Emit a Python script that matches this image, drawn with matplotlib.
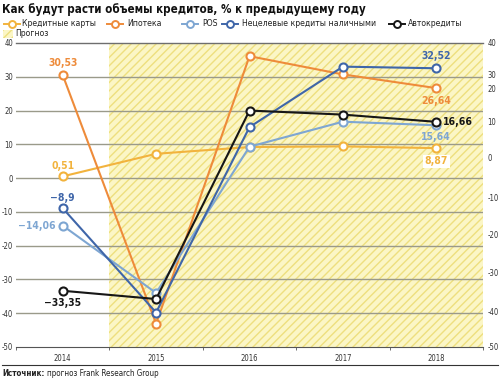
import matplotlib
matplotlib.use("Agg")
import matplotlib.pyplot as plt
from matplotlib.lines import Line2D
from matplotlib.patches import Rectangle

plt.rcParams['font.family'] = ['DejaVu Sans']
plt.rcParams['font.stretch'] = 'condensed'

years = ['2014', '2015', '2016', '2017', '2018']
series_names = ['Кредитные карты', 'Ипотека', 'POS', 'Нецелевые кредиты наличными', 'Автокредиты']
credit_cards = [0.51, 7.2, 9.2, 9.4, 8.87]
mortgage = [30.53, -43.1, 36.1, 30.7, 26.64]
pos = [-14.06, -34.0, 9.3, 16.7, 15.64]
cash_loans = [-8.9, -39.8, 15.1, 33.0, 32.52]
auto_loans = [-33.35, -35.8, 20.0, 18.8, 16.66]
left_ticks = [40, 30, 20, 10, 0, -10, -20, -30, -40, -50]
right_tick_pos = [40, 30.8, 26.6, 16.9, 6.2, -5.6, -16.6, -27.8, -39.6, -50]
right_tick_labels = ['40', '30', '20', '10', '0', '-10', '-20', '-30', '-40', '-50']
forecast_label = 'Прогноз'
title = 'Как будут расти объемы кредитов, % к предыдущему году'

colors = ['#F2B33D', '#EE8B3A', '#7EA6D2', '#3F66A9', '#161616']
all_series = [credit_cards, mortgage, pos, cash_loans, auto_loans]

W, H = 500, 382
fig = plt.figure(figsize=(W / 100, H / 100), dpi=100)
ax = fig.add_axes([16 / W, 1 - 347 / H, (483 - 16) / W, (347 - 43) / H])
x = list(range(len(years)))
ax.set_xlim(-0.5, 4.5)
ax.set_ylim(-50, 40)

# forecast hatch
ax.axvspan(0.5, 4.5, facecolor='#FBF6C6', edgecolor='#EEDF7E', hatch='////', linewidth=0, zorder=0)

# grid
for t in left_ticks:
    if t == 40:
        ax.axhline(t, color='#6E6E6E', lw=1.0, zorder=1, clip_on=False)
    elif t != -50:
        ax.axhline(t, color='#9A9A8A', lw=1.0, zorder=1)

for vals, col in zip(all_series, colors):
    ax.plot(x, vals, color=col, lw=1.5, marker='o', ms=5.8, mfc='white', mec=col, mew=1.5, zorder=3)

# labels
lab_kw = dict(fontsize=7.5, fontweight='bold', textcoords='offset points')
ax.annotate('30,53', (0, mortgage[0]), xytext=(0, 5), ha='center', va='bottom', color=colors[1], **lab_kw)
ax.annotate('0,51', (0, credit_cards[0]), xytext=(0, 4), ha='center', va='bottom', color=colors[0], **lab_kw)
ax.annotate('\u22128,9', (0, cash_loans[0]), xytext=(0, 4), ha='center', va='bottom', color=colors[3], **lab_kw)
ax.annotate('\u221214,06', (0, pos[0]), xytext=(-5, 0), ha='right', va='center', color=colors[2], **lab_kw)
ax.annotate('\u221233,35', (0, auto_loans[0]), xytext=(0, -5), ha='center', va='top', color=colors[4], **lab_kw)
ax.annotate('32,52', (4, cash_loans[4]), xytext=(0, 5), ha='center', va='bottom', color=colors[3], **lab_kw)
ax.annotate('26,64', (4, mortgage[4]), xytext=(0, -6), ha='center', va='top', color=colors[1], **lab_kw)
ax.annotate('16,66', (4, auto_loans[4]), xytext=(5, 0), ha='left', va='center', color=colors[4], **lab_kw)
ax.annotate('15,64', (4, pos[4]), xytext=(0, -5), ha='center', va='top', color=colors[2], **lab_kw)
ax.annotate('8,87', (4, credit_cards[4]), xytext=(0, -6), ha='center', va='top', color=colors[0],
            bbox=dict(boxstyle='square,pad=0.15', fc='white', ec='none'), **lab_kw)

# axes styling
for s in ['left', 'right', 'top']:
    ax.spines[s].set_visible(False)
ax.spines['bottom'].set_color('#555555')
ax.spines['bottom'].set_linewidth(0.8)
ax.set_yticks(left_ticks)
ax.set_yticklabels([str(t) for t in left_ticks])
ax.tick_params(axis='y', length=0, labelsize=5.5, pad=2, colors='#333333')
ax.set_xticks(x)
ax.set_xticklabels(years)
ax.tick_params(axis='x', length=0, labelsize=5.5, pad=5, colors='#333333')
ax.set_xticks([-0.5, 0.5, 1.5, 2.5, 3.5, 4.5], minor=True)
ax.tick_params(axis='x', which='minor', length=2.5, color='#555555', width=0.6)

ax2 = ax.twinx()
ax2.set_ylim(-50, 40)
ax2.set_yticks(right_tick_pos)
ax2.set_yticklabels(right_tick_labels)
ax2.tick_params(axis='y', length=0, labelsize=5.5, pad=3, colors='#333333')
for s in ax2.spines.values():
    s.set_visible(False)

# title
fig.text(2 / W, 1 - 10 / H, title, fontsize=8.3, fontweight='bold', ha='left', va='center', color='#111111')

# legend (manual)
leg_y = 1 - 24 / H
leg_items = [(4, 22), (107, 127), (182, 202), (222, 242), (389, 408)]
for (x0, tx), name, col in zip(leg_items, series_names, colors):
    fig.add_artist(Line2D([x0 / W, (x0 + 8) / W, (x0 + 16) / W], [leg_y] * 3, color=col, lw=1.4,
                          marker='o', ms=5, mfc='white', mec=col, mew=1.4, markevery=[1],
                          transform=fig.transFigure))
    fig.text(tx / W, leg_y, name, fontsize=6.2, ha='left', va='center', color='#222222')
fig.add_artist(Rectangle((3 / W, 1 - 38 / H), 10 / W, 8 / H, facecolor='#FBF6C6', edgecolor='#EEDF7E',
                         hatch='////', linewidth=0, transform=fig.transFigure))
fig.text(15 / W, 1 - 34 / H, forecast_label, fontsize=6.2, ha='left', va='center', color='#222222')

# source
fig.add_artist(Line2D([2 / W, 498 / W], [1 - 365 / H] * 2, color='#333333', lw=0.8, transform=fig.transFigure))
src1 = fig.text(2 / W, 1 - 374 / H, 'Источник:', fontsize=5.8, fontweight='bold', ha='left', va='center', color='#222222')
fig.canvas.draw()
bb = src1.get_window_extent()
fig.text((bb.x1 + 3) / W, 1 - 374 / H, 'прогноз Frank Research Group', fontsize=5.8, ha='left', va='center', color='#222222')

fig.savefig('out.png', dpi=100)
